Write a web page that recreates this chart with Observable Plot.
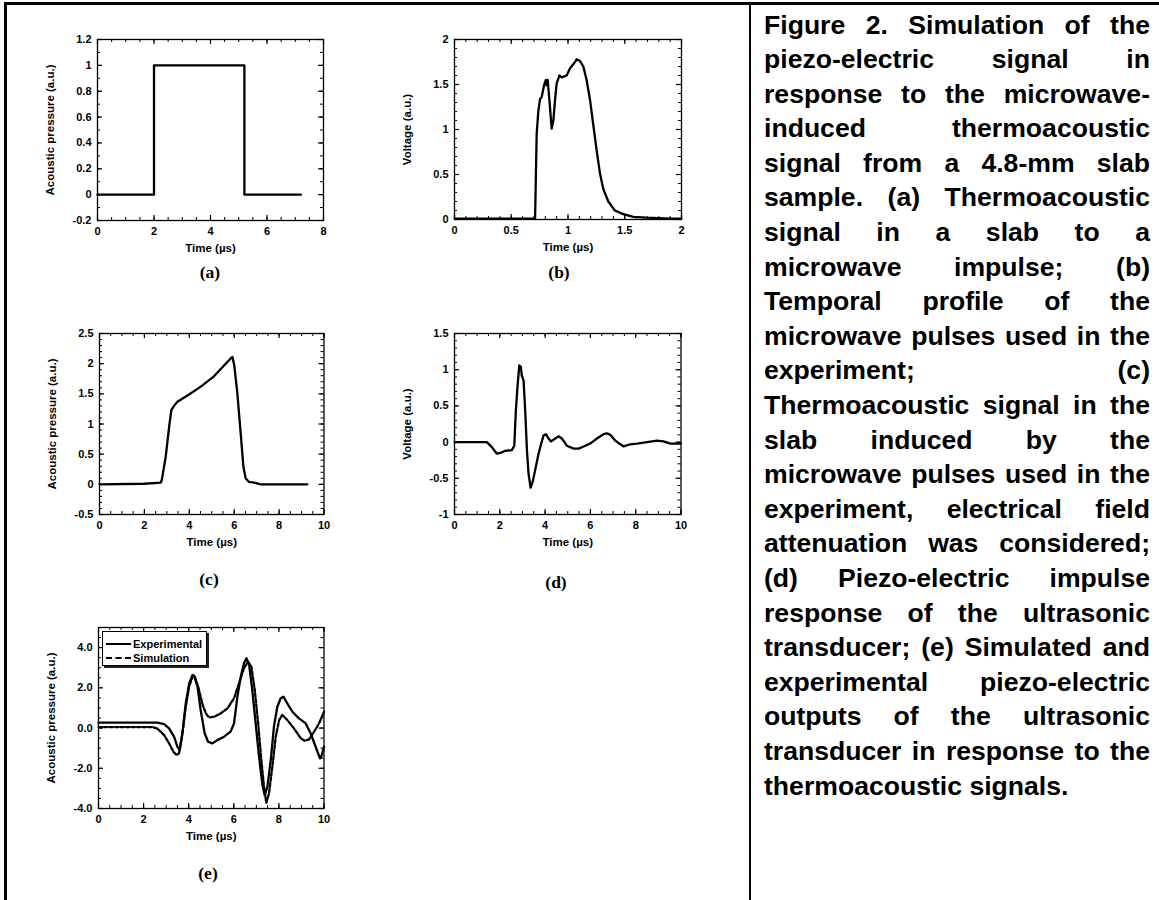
<!DOCTYPE html>
<html><head><meta charset="utf-8">
<script src="https://cdn.jsdelivr.net/npm/d3@7"></script>
<script src="https://cdn.jsdelivr.net/npm/@observablehq/plot@0.6"></script>
<style>
body{margin:0;background:#fff;}
#page{position:relative;width:1159px;height:900px;overflow:hidden;font-family:"Liberation Sans",Arial,sans-serif;background:#fff;}
.hline{position:absolute;left:4px;top:2px;width:1155px;height:3px;background:#000;}
.vline{position:absolute;background:#000;}
.panel{position:absolute;}
.plabel{position:absolute;font-family:"Liberation Serif","Times New Roman",serif;font-weight:bold;font-size:17.5px;transform:translate(-50%,-50%);white-space:nowrap;}
#caption{position:absolute;left:764px;top:7.5px;width:386px;font-weight:bold;font-size:26.6px;line-height:34.6px;text-align:justify;color:#000;}
#legend{position:absolute;left:102px;top:631px;width:103px;height:33px;border:1px solid #000;background:#fff;box-shadow:2px 2px 0 #222;font-weight:bold;font-size:11px;}
#legend .row{position:absolute;left:3px;height:14px;display:flex;align-items:center;}
#legend .sample{width:25px;height:0;margin-right:2px;}
</style></head>
<body>
<div id="page">
  <div class="hline"></div>
  <div class="vline" style="left:4px;top:2px;width:2.5px;height:898px;"></div>
  <div class="vline" style="left:749px;top:2px;width:2px;height:898px;"></div>
  <div id="caption">Figure 2. Simulation of the piezo-electric signal in response to the microwave-induced thermoacoustic signal from a 4.8-mm slab sample. (a) Thermoacoustic signal in a slab to a microwave impulse; (b) Temporal profile of the microwave pulses used in the experiment; (c) Thermoacoustic signal in the slab induced by the microwave pulses used in the experiment, electrical field attenuation was considered; (d) Piezo-electric impulse response of the ultrasonic transducer; (e) Simulated and experimental piezo-electric outputs of the ultrasonic transducer in response to the thermoacoustic signals.</div>
</div>
<script>
// ---- Data ----
const aTime = [0, 2, 2, 5.2, 5.2, 7.2];
const aPressure = [0, 0, 1, 1, 0, 0];

const bTime = [0, 0.3, 0.6, 0.71, 0.724, 0.739, 0.754, 0.768, 0.789, 0.804, 0.812, 0.821, 0.836, 0.856, 0.871, 0.886, 0.900, 0.924, 0.944, 0.988, 1.018, 1.062, 1.076, 1.106, 1.135, 1.164, 1.194, 1.223, 1.252, 1.282, 1.311, 1.355, 1.413, 1.487, 1.575, 1.69, 1.90, 2.0];
const bVoltage = [0.01, 0.01, 0.01, 0.01, 0.955, 1.21, 1.34, 1.36, 1.49, 1.55, 1.49, 1.55, 1.33, 1.01, 1.10, 1.33, 1.51, 1.60, 1.58, 1.60, 1.68, 1.75, 1.78, 1.76, 1.70, 1.55, 1.33, 1.05, 0.77, 0.51, 0.34, 0.20, 0.10, 0.06, 0.03, 0.02, 0.01, 0.01];

const cTime = [0, 1.99, 2.73, 2.78, 2.95, 3.10, 3.20, 3.32, 3.47, 3.99, 4.51, 5.10, 5.85, 5.92, 6.0, 6.14, 6.29, 6.41, 6.51, 6.66, 6.88, 7.18, 9.26];
const cPressure = [0, 0.01, 0.03, 0.08, 0.46, 0.95, 1.23, 1.30, 1.37, 1.49, 1.62, 1.79, 2.09, 2.11, 1.98, 1.51, 0.84, 0.29, 0.10, 0.04, 0.03, 0, 0];

const dTime = [0, 1.43, 1.65, 1.87, 2.02, 2.24, 2.53, 2.64, 2.71, 2.78, 2.86, 2.93, 2.97, 3.05, 3.12, 3.20, 3.27, 3.36, 3.45, 3.56, 3.71, 3.83, 3.93, 4.04, 4.15, 4.26, 4.40, 4.60, 4.74, 4.96, 5.26, 5.48, 5.70, 5.99, 6.29, 6.58, 6.73, 6.88, 7.10, 7.32, 7.47, 7.76, 8.06, 8.50, 8.94, 9.23, 9.53, 10];
const dVoltage = [0, 0, -0.07, -0.16, -0.15, -0.12, -0.11, -0.05, 0.44, 0.76, 1.06, 1.04, 0.92, 0.85, 0.44, -0.12, -0.44, -0.63, -0.55, -0.39, -0.16, -0.02, 0.09, 0.11, 0.05, 0.01, 0.04, 0.08, 0.05, -0.05, -0.09, -0.09, -0.06, -0.02, 0.05, 0.11, 0.12, 0.10, 0.02, -0.03, -0.06, -0.03, -0.02, 0, 0.02, 0.01, -0.02, -0.02];

const eExpTime = [0, 2.61, 2.91, 3.13, 3.35, 3.50, 3.60, 3.72, 3.87, 4.02, 4.17, 4.24, 4.39, 4.53, 4.71, 4.86, 5.05, 5.27, 5.57, 5.86, 6.01, 6.16, 6.31, 6.45, 6.56, 6.68, 6.82, 6.97, 7.12, 7.27, 7.37, 7.49, 7.64, 7.78, 7.93, 8.08, 8.20, 8.37, 8.60, 8.89, 9.19, 9.41, 9.63, 9.82, 9.88, 10];
const eExpPressure = [0.27, 0.27, 0.20, -0.02, -0.43, -0.93, -1.10, -0.27, 1.23, 2.22, 2.64, 2.60, 2.06, 0.90, -0.27, -0.68, -0.76, -0.60, -0.43, -0.18, 0.23, 1.56, 2.56, 3.22, 3.47, 3.14, 1.89, 0.23, -1.43, -2.84, -3.34, -2.92, -1.59, 0.07, 1.06, 1.48, 1.56, 1.23, 0.81, 0.48, 0.23, -0.27, -0.93, -1.51, -1.43, -0.93];
const eSimTime = [0, 2.39, 2.61, 2.91, 3.13, 3.32, 3.46, 3.57, 3.72, 3.87, 4.02, 4.17, 4.27, 4.42, 4.62, 4.76, 4.90, 5.13, 5.42, 5.72, 6.01, 6.23, 6.45, 6.63, 6.78, 6.93, 7.08, 7.22, 7.34, 7.44, 7.56, 7.71, 7.86, 8.01, 8.15, 8.37, 8.67, 8.97, 9.14, 9.34, 9.56, 9.78, 10];
const eSimPressure = [0.05, 0.05, -0.02, -0.35, -0.76, -1.18, -1.34, -1.26, -0.27, 1.06, 2.06, 2.56, 2.56, 2.06, 1.15, 0.73, 0.53, 0.56, 0.73, 0.98, 1.48, 2.22, 2.97, 3.30, 3.05, 1.89, 0.23, -1.59, -2.92, -3.72, -3.25, -1.93, -0.43, 0.40, 0.65, 0.40, -0.02, -0.51, -0.63, -0.56, -0.18, 0.23, 0.81];

// ---- Tick labels ----
const aXTicks = [0, 2, 4, 6, 8], aXTickLabels = ["0", "2", "4", "6", "8"];
const aYTicks = [-0.2, 0, 0.2, 0.4, 0.6, 0.8, 1, 1.2], aYTickLabels = ["-0.2", "0", "0.2", "0.4", "0.6", "0.8", "1", "1.2"];
const bXTicks = [0, 0.5, 1, 1.5, 2], bXTickLabels = ["0", "0.5", "1", "1.5", "2"];
const bYTicks = [0, 0.5, 1, 1.5, 2], bYTickLabels = ["0", "0.5", "1", "1.5", "2"];
const tenTicks = [0, 2, 4, 6, 8, 10], tenTickLabels = ["0", "2", "4", "6", "8", "10"];
const cYTicks = [-0.5, 0, 0.5, 1, 1.5, 2, 2.5], cYTickLabels = ["-0.5", "0", "0.5", "1", "1.5", "2", "2.5"];
const dYTicks = [-1, -0.5, 0, 0.5, 1, 1.5], dYTickLabels = ["-1", "-0.5", "0", "0.5", "1", "1.5"];
const eYTicks = [-4, -2, 0, 2, 4], eYTickLabels = ["-4.0", "-2.0", "0.0", "2.0", "4.0"];

const xTitle = "Time (µs)";
const pressureTitle = "Acoustic pressure (a.u.)";
const voltageTitle = "Voltage (a.u.)";

function toRows(xs, ys) { return xs.map((x, i) => ({x, y: ys[i]})); }
function steps(d0, d1, step) {
  const out = [];
  for (let i = Math.ceil(d0 / step - 1e-9); i * step <= d1 + 1e-9; i++) out.push(+(i * step).toFixed(6));
  return out;
}

const panels = [
  {fx0: 97, fx1: 323, fy0: 39, fy1: 220, xDomain: [0, 8], yDomain: [-0.2, 1.2], xTicks: aXTicks, xLabels: aXTickLabels, yTicks: aYTicks, yLabels: aYTickLabels, xMinor: 0.5, yMinor: 0.1, yTitle: pressureTitle,
   series: [{rows: toRows(aTime, aPressure)}], label: "(a)", lx: 210, ly: 272},
  {fx0: 454, fx1: 681, fy0: 39, fy1: 219, xDomain: [0, 2], yDomain: [0, 2], xTicks: bXTicks, xLabels: bXTickLabels, yTicks: bYTicks, yLabels: bYTickLabels, xMinor: 0.1, yMinor: 0.1, yTitle: voltageTitle,
   series: [{rows: toRows(bTime, bVoltage)}], label: "(b)", lx: 559, ly: 272},
  {fx0: 98.5, fx1: 323, fy0: 333, fy1: 514, xDomain: [0, 10], yDomain: [-0.5, 2.5], xTicks: tenTicks, xLabels: tenTickLabels, yTicks: cYTicks, yLabels: cYTickLabels, xMinor: 0.5, yMinor: 0.1, yTitle: pressureTitle,
   series: [{rows: toRows(cTime, cPressure)}], label: "(c)", lx: 209, ly: 579},
  {fx0: 454, fx1: 680.5, fy0: 333, fy1: 514, xDomain: [0, 10], yDomain: [-1, 1.5], xTicks: tenTicks, xLabels: tenTickLabels, yTicks: dYTicks, yLabels: dYTickLabels, xMinor: 0.5, yMinor: 0.1, yTitle: voltageTitle,
   series: [{rows: toRows(dTime, dVoltage)}], label: "(d)", lx: 556, ly: 582},
  {fx0: 97.5, fx1: 323, fy0: 627, fy1: 808, xDomain: [0, 10], yDomain: [-4, 5], xTicks: tenTicks, xLabels: tenTickLabels, yTicks: eYTicks, yLabels: eYTickLabels, xMinor: 0.5, yMinor: 0.5, yTitle: pressureTitle,
   series: [{rows: toRows(eExpTime, eExpPressure)}, {rows: toRows(eSimTime, eSimPressure), dash: "3.5,2"}], label: "(e)", lx: 208, ly: 873}
];

const page = document.getElementById("page");
const M = {l: 80, r: 20, t: 20, b: 50};
const FONT = "'Liberation Sans', Arial, sans-serif";

for (const p of panels) {
  const w = p.fx1 - p.fx0, h = p.fy1 - p.fy0;
  const majLen = 5, minLen = 3;
  const xMin = steps(p.xDomain[0], p.xDomain[1], p.xMinor);
  const yMin = steps(p.yDomain[0], p.yDomain[1], p.yMinor);
  const xMaj = steps(p.xDomain[0], p.xDomain[1], p.xTicks[1] - p.xTicks[0]);
  const yMaj = p.yTicks;
  const marks = [
    Plot.tickX(xMin, {x: d => d, insetTop: h - minLen, stroke: "black", strokeWidth: 1}),
    Plot.tickX(xMin, {x: d => d, insetBottom: h - minLen, stroke: "black", strokeWidth: 1}),
    Plot.tickX(xMaj, {x: d => d, insetTop: h - majLen, stroke: "black", strokeWidth: 1.2}),
    Plot.tickX(xMaj, {x: d => d, insetBottom: h - majLen, stroke: "black", strokeWidth: 1.2}),
    Plot.tickY(yMin, {y: d => d, insetRight: w - minLen, stroke: "black", strokeWidth: 1}),
    Plot.tickY(yMin, {y: d => d, insetLeft: w - minLen, stroke: "black", strokeWidth: 1}),
    Plot.tickY(yMaj, {y: d => d, insetRight: w - majLen, stroke: "black", strokeWidth: 1.2}),
    Plot.tickY(yMaj, {y: d => d, insetLeft: w - majLen, stroke: "black", strokeWidth: 1.2}),
    Plot.axisX(p.xTicks, {anchor: "bottom", tickSize: 0, tickPadding: 7, label: null, fontSize: 11, fontWeight: "bold", tickFormat: d => p.xLabels[p.xTicks.indexOf(d)]}),
    Plot.axisY(p.yTicks, {anchor: "left", tickSize: 0, tickPadding: 6, label: null, fontSize: 11, fontWeight: "bold", tickFormat: d => p.yLabels[p.yTicks.indexOf(d)]}),
    Plot.text([xTitle], {text: d => d, frameAnchor: "bottom", lineAnchor: "top", dy: 23, fontSize: 11.5, fontWeight: "bold"}),
    Plot.text([p.yTitle], {text: d => d, frameAnchor: "left", dx: -47, rotate: -90, textAnchor: "middle", lineAnchor: "middle", fontSize: 11.5, fontWeight: "bold"}),
    ...p.series.map(s => Plot.line(s.rows, {x: "x", y: "y", stroke: "black", strokeWidth: 2.3, strokeDasharray: s.dash || null, strokeLinejoin: "round"})),
    Plot.frame({stroke: "black", strokeWidth: 1.3})
  ];
  const chart = Plot.plot({
    width: w + M.l + M.r, height: h + M.t + M.b,
    marginLeft: M.l, marginRight: M.r, marginTop: M.t, marginBottom: M.b,
    x: {domain: p.xDomain}, y: {domain: p.yDomain},
    style: {fontFamily: FONT, fontWeight: "bold", background: "transparent", color: "black", overflow: "visible"},
    marks
  });
  const div = document.createElement("div");
  div.className = "panel";
  div.style.left = (p.fx0 - M.l) + "px";
  div.style.top = (p.fy0 - M.t) + "px";
  div.appendChild(chart);
  page.appendChild(div);
  const lab = document.createElement("div");
  lab.className = "plabel";
  lab.style.left = p.lx + "px";
  lab.style.top = p.ly + "px";
  lab.textContent = p.label;
  page.appendChild(lab);
}

// legend for panel (e)
const legendItems = [{name: "Experimental", style: "solid"}, {name: "Simulation", style: "dashed"}];
const lg = document.createElement("div");
lg.id = "legend";
legendItems.forEach((it, i) => {
  const row = document.createElement("div");
  row.className = "row";
  row.style.top = (5 + i * 14) + "px";
  const s = document.createElement("div");
  s.className = "sample";
  s.style.borderTop = "2px " + it.style + " #000";
  row.appendChild(s);
  const t = document.createElement("span");
  t.textContent = it.name;
  row.appendChild(t);
  lg.appendChild(row);
});
page.appendChild(lg);
</script>
</body></html>
